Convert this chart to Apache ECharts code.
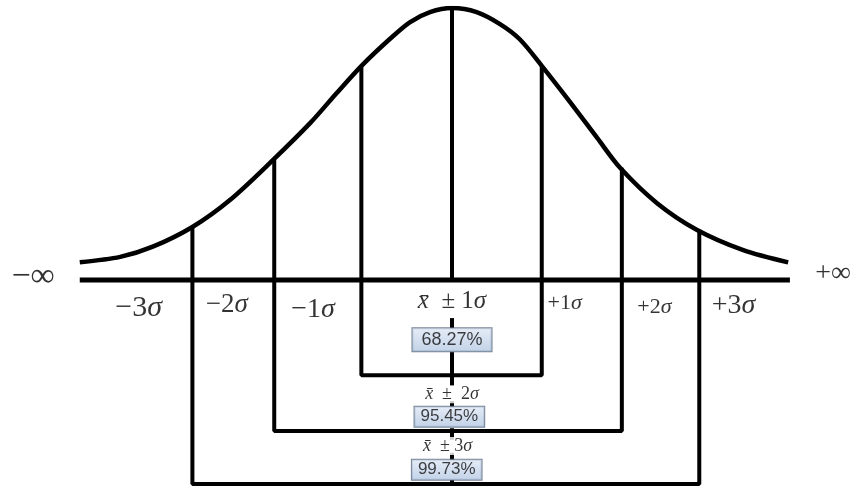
<!DOCTYPE html>
<html>
<head>
    <meta charset="utf-8">
    <title>正态分布</title>
    <script src="https://cdn.jsdelivr.net/npm/echarts@6/dist/echarts.min.js"></script>
    <style>
        html, body { margin: 0; padding: 0; background: #fff; }
        #main { width: 850px; height: 486px; }
    </style>
</head>
<body>
<div id="main"></div>
<script type="text/javascript">
    // bell curve: x in sigma units, y as density
    var curveX = [-4.23, -3.77, -3.40, -2.95, -2.52, -2.03, -1.61, -1.31, -1.02, -0.71, -0.48, -0.25, 0, 0.28, 0.55, 0.77, 1.02, 1.34, 1.65, 1.91, 2.33, 2.78, 3.31, 3.82];
    var curveY = [0.026, 0.034, 0.049, 0.078, 0.118, 0.177, 0.231, 0.275, 0.316, 0.354, 0.379, 0.394, 0.400, 0.394, 0.376, 0.354, 0.315, 0.262, 0.209, 0.165, 0.113, 0.074, 0.044, 0.026];
    // vertical lines at -3..+3 sigma, and where they meet the curve
    var sigmaX = [-2.95, -2.02, -1.03, 0, 1.02, 1.93, 2.81];
    var sigmaTop = [0.078, 0.177, 0.316, 0.400, 0.315, 0.165, 0.074];
    // bottom of the 1σ / 2σ / 3σ brackets
    var bracketBottom = [-0.14, -0.222, -0.30];
    var baselineX = [-4.23, 3.84];
    // visible pieces of the center line (it is hidden behind the texts and boxes)
    var centerTop = [0.400, -0.056, -0.106, -0.178, -0.218, -0.254, -0.294];
    var centerBottom = [0, -0.071, -0.156, -0.187, -0.235, -0.265, -0.300];

    var labelText = ['−∞', '+∞', '−3σ', '−2σ', '−1σ', 'x̄  ± 1σ', '+1σ', '+2σ', '+3σ', '68.27%', 'x̄  ±  2σ', '95.45%', 'x̄  ± 3σ', '99.73%'];
    var labelX = [-4.76, 4.33, -3.56, -2.56, -1.58, 0, 1.28, 2.30, 3.20, 0, 0, -0.03, -0.05, -0.06];
    var labelY = [0.005, 0.010, -0.041, -0.037, -0.044, -0.032, -0.034, -0.040, -0.037, -0.088, -0.168, -0.201, -0.244, -0.279];
    // font size per label, and which labels sit in a blue box
    var labelSize = [34, 28, 30, 27, 28, 25, 22, 22, 28, 18, 18, 17, 18, 17];
    var labelBoxed = [false, false, false, false, false, false, false, false, false, true, false, true, false, true];

    var black = '#000';
    var serif = '"Liberation Serif", "Times New Roman", serif';
    var myChart = echarts.init(document.getElementById('main'));

    function toRich(t) {
        return t.split(/(σ|x\u0304)/).filter(function (p) { return p; }).map(function (p) {
            if (p === 'σ') return '{s|σ}';
            if (p === 'x\u0304') return '{x|x\u0304}';
            return '{n|' + p + '}';
        }).join('');
    }

    function lineSeries(points, width) {
        return {
            type: 'line',
            data: points,
            symbol: 'none',
            silent: true,
            lineStyle: { color: black, width: width },
            z: 2
        };
    }

    var series = [];
    // curve
    var curve = lineSeries(curveX.map(function (x, i) { return [x, curveY[i]]; }), 4.5);
    curve.smooth = 0.3;
    series.push(curve);
    // baseline
    series.push(lineSeries([[baselineX[0], 0], [baselineX[1], 0]], 5));
    // center line pieces
    centerTop.forEach(function (t, i) {
        series.push(lineSeries([[sigmaX[3], t], [sigmaX[3], centerBottom[i]]], 4));
    });
    // brackets for 1σ, 2σ, 3σ
    for (var k = 0; k < 3; k++) {
        var l = 2 - k, r = 4 + k;
        series.push(lineSeries([
            [sigmaX[l], sigmaTop[l]],
            [sigmaX[l], bracketBottom[k]],
            [sigmaX[r], bracketBottom[k]],
            [sigmaX[r], sigmaTop[r]]
        ], 4));
    }

    var boxFill = new echarts.graphic.LinearGradient(0, 0, 0, 1, [
        { offset: 0, color: '#dfe8f5' },
        { offset: 1, color: '#b3c7e2' }
    ]);

    var labelData = labelText.map(function (t, i) {
        var size = labelSize[i];
        var label;
        if (labelBoxed[i]) {
            label = {
                formatter: t,
                fontFamily: '"Liberation Sans", Arial, sans-serif',
                fontSize: size,
                color: '#111',
                backgroundColor: boxFill,
                borderColor: '#56657c',
                borderWidth: 1,
                padding: i === 9 ? [3, 9, 2, 9] : [2, 6, 1, 6]
            };
        } else {
            label = {
                formatter: toRich(t),
                backgroundColor: t.indexOf('x\u0304') >= 0 ? '#fff' : 'transparent',
                padding: [0, 1],
                rich: {
                    n: { fontFamily: serif, fontSize: size, color: black },
                    s: { fontFamily: serif, fontStyle: 'italic', fontSize: size, color: black },
                    x: { fontFamily: serif, fontStyle: 'italic', fontSize: size, color: black }
                }
            };
        }
        label.show = true;
        label.position = 'inside';
        label.align = 'center';
        label.verticalAlign = 'middle';
        return { value: [labelX[i], labelY[i]], label: label };
    });

    series.push({
        type: 'scatter',
        data: labelData,
        symbolSize: 0,
        silent: true,
        zlevel: 1,
        z: 5
    });

    var option = {
        animation: false,
        grid: { left: 12, right: 2, top: 8, bottom: 2 },
        xAxis: { type: 'value', min: -5, max: 4.5, show: false },
        yAxis: { type: 'value', min: -0.3, max: 0.4, show: false },
        series: series
    };
    myChart.setOption(option);
</script>
</body>
</html>
